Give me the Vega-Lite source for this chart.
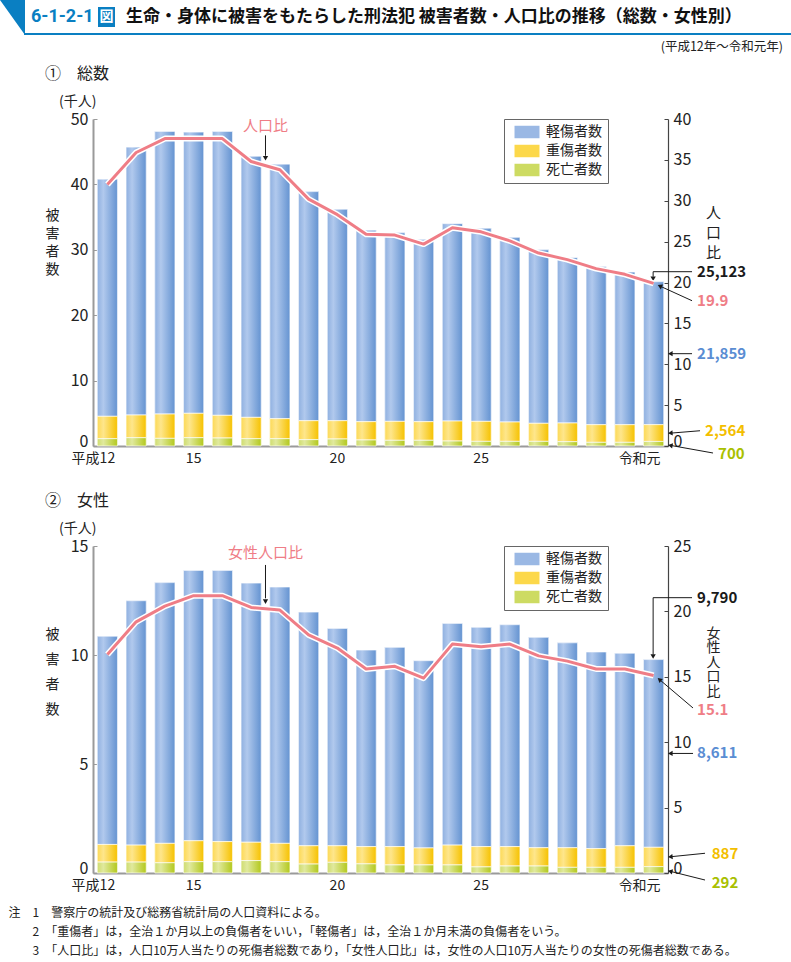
{
"$schema": "https://vega.github.io/schema/vega-lite/v6.json",
"padding": 0,
"background": "white",
"bounds": "flush",
"spacing": 100,
"resolve": {"scale": {"color": "independent"}, "legend": {"color": "independent"}},
"config": {
  "font": "Noto Sans CJK JP",
  "view": {"stroke": null},
  "axis": {"grid": false, "labelFont": "Noto Sans CJK JP", "titleFont": "Noto Sans CJK JP"},
  "legend": {"labelFont": "Noto Sans CJK JP"},
  "text": {"font": "Noto Sans CJK JP"},
  "title": {"anchor": "start", "frame": "group", "dx": -48, "fontSize": 16, "fontWeight": "normal", "color": "#222222", "font": "Noto Sans CJK JP", "subtitleFont": "Noto Sans CJK JP", "subtitleFontSize": 14, "subtitleColor": "#222222", "subtitlePadding": 13, "offset": 2}
},
"datasets": {
  "total": [
    {"year":"平成12","type":"軽傷者数","rank":3,"value":36260},{"year":"平成12","type":"重傷者数","rank":2,"value":3420},{"year":"平成12","type":"死亡者数","rank":1,"value":1120},
    {"year":"13","type":"軽傷者数","rank":3,"value":40960},{"year":"13","type":"重傷者数","rank":2,"value":3470},{"year":"13","type":"死亡者数","rank":1,"value":1270},
    {"year":"14","type":"軽傷者数","rank":3,"value":43210},{"year":"14","type":"重傷者数","rank":2,"value":3720},{"year":"14","type":"死亡者数","rank":1,"value":1170},
    {"year":"15","type":"軽傷者数","rank":3,"value":43000},{"year":"15","type":"重傷者数","rank":2,"value":3730},{"year":"15","type":"死亡者数","rank":1,"value":1270},
    {"year":"16","type":"軽傷者数","rank":3,"value":43410},{"year":"16","type":"重傷者数","rank":2,"value":3470},{"year":"16","type":"死亡者数","rank":1,"value":1220},
    {"year":"17","type":"軽傷者数","rank":3,"value":39920},{"year":"17","type":"重傷者数","rank":2,"value":3260},{"year":"17","type":"死亡者数","rank":1,"value":1120},
    {"year":"18","type":"軽傷者数","rank":3,"value":38920},{"year":"18","type":"重傷者数","rank":2,"value":3060},{"year":"18","type":"死亡者数","rank":1,"value":1120},
    {"year":"19","type":"軽傷者数","rank":3,"value":35030},{"year":"19","type":"重傷者数","rank":2,"value":2900},{"year":"19","type":"死亡者数","rank":1,"value":970},
    {"year":"20","type":"軽傷者数","rank":3,"value":32330},{"year":"20","type":"重傷者数","rank":2,"value":2800},{"year":"20","type":"死亡者数","rank":1,"value":1070},
    {"year":"21","type":"軽傷者数","rank":3,"value":29280},{"year":"21","type":"重傷者数","rank":2,"value":2800},{"year":"21","type":"死亡者数","rank":1,"value":920},
    {"year":"22","type":"軽傷者数","rank":3,"value":28830},{"year":"22","type":"重傷者数","rank":2,"value":2900},{"year":"22","type":"死亡者数","rank":1,"value":870},
    {"year":"23","type":"軽傷者数","rank":3,"value":27880},{"year":"23","type":"重傷者数","rank":2,"value":2850},{"year":"23","type":"死亡者数","rank":1,"value":870},
    {"year":"24","type":"軽傷者数","rank":3,"value":30180},{"year":"24","type":"重傷者数","rank":2,"value":3060},{"year":"24","type":"死亡者数","rank":1,"value":760},
    {"year":"25","type":"軽傷者数","rank":3,"value":29530},{"year":"25","type":"重傷者数","rank":2,"value":3060},{"year":"25","type":"死亡者数","rank":1,"value":710},
    {"year":"26","type":"軽傷者数","rank":3,"value":28230},{"year":"26","type":"重傷者数","rank":2,"value":2960},{"year":"26","type":"死亡者数","rank":1,"value":710},
    {"year":"27","type":"軽傷者数","rank":3,"value":26530},{"year":"27","type":"重傷者数","rank":2,"value":2760},{"year":"27","type":"死亡者数","rank":1,"value":710},
    {"year":"28","type":"軽傷者数","rank":3,"value":25280},{"year":"28","type":"重傷者数","rank":2,"value":2860},{"year":"28","type":"死亡者数","rank":1,"value":660},
    {"year":"29","type":"軽傷者数","rank":3,"value":24140},{"year":"29","type":"重傷者数","rank":2,"value":2700},{"year":"29","type":"死亡者数","rank":1,"value":560},
    {"year":"30","type":"軽傷者数","rank":3,"value":23340},{"year":"30","type":"重傷者数","rank":2,"value":2700},{"year":"30","type":"死亡者数","rank":1,"value":560},
    {"year":"令和元","type":"軽傷者数","rank":3,"value":21859},{"year":"令和元","type":"重傷者数","rank":2,"value":2564},{"year":"令和元","type":"死亡者数","rank":1,"value":700}
  ],
  "female": [
    {"year":"平成12","type":"軽傷者数","rank":3,"value":9550},{"year":"平成12","type":"重傷者数","rank":2,"value":810},{"year":"平成12","type":"死亡者数","rank":1,"value":500},
    {"year":"13","type":"軽傷者数","rank":3,"value":11210},{"year":"13","type":"重傷者数","rank":2,"value":780},{"year":"13","type":"死亡者数","rank":1,"value":500},
    {"year":"14","type":"軽傷者数","rank":3,"value":11960},{"year":"14","type":"重傷者数","rank":2,"value":890},{"year":"14","type":"死亡者数","rank":1,"value":470},
    {"year":"15","type":"軽傷者数","rank":3,"value":12400},{"year":"15","type":"重傷者数","rank":2,"value":960},{"year":"15","type":"死亡者数","rank":1,"value":520},
    {"year":"16","type":"軽傷者数","rank":3,"value":12440},{"year":"16","type":"重傷者数","rank":2,"value":920},{"year":"16","type":"死亡者数","rank":1,"value":520},
    {"year":"17","type":"軽傷者数","rank":3,"value":11890},{"year":"17","type":"重傷者数","rank":2,"value":840},{"year":"17","type":"死亡者数","rank":1,"value":570},
    {"year":"18","type":"軽傷者数","rank":3,"value":11760},{"year":"18","type":"重傷者数","rank":2,"value":840},{"year":"18","type":"死亡者数","rank":1,"value":520},
    {"year":"19","type":"軽傷者数","rank":3,"value":10720},{"year":"19","type":"重傷者数","rank":2,"value":840},{"year":"19","type":"死亡者数","rank":1,"value":410},
    {"year":"20","type":"軽傷者数","rank":3,"value":9970},{"year":"20","type":"重傷者数","rank":2,"value":760},{"year":"20","type":"死亡者数","rank":1,"value":490},
    {"year":"21","type":"軽傷者数","rank":3,"value":9020},{"year":"21","type":"重傷者数","rank":2,"value":790},{"year":"21","type":"死亡者数","rank":1,"value":420},
    {"year":"22","type":"軽傷者数","rank":3,"value":9140},{"year":"22","type":"重傷者数","rank":2,"value":840},{"year":"22","type":"死亡者数","rank":1,"value":370},
    {"year":"23","type":"軽傷者数","rank":3,"value":8590},{"year":"23","type":"重傷者数","rank":2,"value":780},{"year":"23","type":"死亡者数","rank":1,"value":370},
    {"year":"24","type":"軽傷者数","rank":3,"value":10170},{"year":"24","type":"重傷者数","rank":2,"value":910},{"year":"24","type":"死亡者数","rank":1,"value":370},
    {"year":"25","type":"軽傷者数","rank":3,"value":10060},{"year":"25","type":"重傷者数","rank":2,"value":930},{"year":"25","type":"死亡者数","rank":1,"value":280},
    {"year":"26","type":"軽傷者数","rank":3,"value":10180},{"year":"26","type":"重傷者数","rank":2,"value":890},{"year":"26","type":"死亡者数","rank":1,"value":320},
    {"year":"27","type":"軽傷者数","rank":3,"value":9650},{"year":"27","type":"重傷者数","rank":2,"value":840},{"year":"27","type":"死亡者数","rank":1,"value":320},
    {"year":"28","type":"軽傷者数","rank":3,"value":9400},{"year":"28","type":"重傷者数","rank":2,"value":900},{"year":"28","type":"死亡者数","rank":1,"value":260},
    {"year":"29","type":"軽傷者数","rank":3,"value":9020},{"year":"29","type":"重傷者数","rank":2,"value":860},{"year":"29","type":"死亡者数","rank":1,"value":260},
    {"year":"30","type":"軽傷者数","rank":3,"value":8830},{"year":"30","type":"重傷者数","rank":2,"value":990},{"year":"30","type":"死亡者数","rank":1,"value":260},
    {"year":"令和元","type":"軽傷者数","rank":3,"value":8611},{"year":"令和元","type":"重傷者数","rank":2,"value":887},{"year":"令和元","type":"死亡者数","rank":1,"value":292}
  ],
  "ratio_total": [
    {"year":"平成12","ratio":32.0},{"year":"13","ratio":35.9},{"year":"14","ratio":37.6},{"year":"15","ratio":37.6},{"year":"16","ratio":37.6},
    {"year":"17","ratio":34.8},{"year":"18","ratio":33.8},{"year":"19","ratio":30.2},{"year":"20","ratio":28.3},{"year":"21","ratio":25.9},
    {"year":"22","ratio":25.8},{"year":"23","ratio":24.7},{"year":"24","ratio":26.7},{"year":"25","ratio":26.2},{"year":"26","ratio":25.1},
    {"year":"27","ratio":23.6},{"year":"28","ratio":22.8},{"year":"29","ratio":21.7},{"year":"30","ratio":21.0},{"year":"令和元","ratio":19.9}
  ],
  "ratio_female": [
    {"year":"平成12","ratio":16.7},{"year":"13","ratio":19.2},{"year":"14","ratio":20.4},{"year":"15","ratio":21.2},{"year":"16","ratio":21.2},
    {"year":"17","ratio":20.3},{"year":"18","ratio":20.1},{"year":"19","ratio":18.2},{"year":"20","ratio":17.2},{"year":"21","ratio":15.6},
    {"year":"22","ratio":15.8},{"year":"23","ratio":14.9},{"year":"24","ratio":17.5},{"year":"25","ratio":17.3},{"year":"26","ratio":17.5},
    {"year":"27","ratio":16.6},{"year":"28","ratio":16.2},{"year":"29","ratio":15.6},{"year":"30","ratio":15.6},{"year":"令和元","ratio":15.1}
  ]
},
"vconcat": [
  {
    "width": 575, "height": 19,
    "data": {"values": [{"fig": "6-1-2-1", "zu": "図", "title": "生命・身体に被害をもたらした刑法犯 被害者数・人口比の推移（総数・女性別）", "period": "(平成12年～令和元年)"}]},
    "layer": [
      {"mark": {"type": "point", "shape": "M-0.714,-1L0.714,-1L0.714,1Z", "filled": true, "size": 1225, "color": "#0a7fc2", "opacity": 1, "strokeWidth": 0},
       "encoding": {"x": {"datum": 12.5, "type": "quantitative", "scale": {"domain": [93, 668], "nice": false, "zero": false}, "axis": null},
                    "y": {"datum": 17.5, "type": "quantitative", "scale": {"domain": [19, 0], "nice": false, "zero": false}, "axis": null}}},
      {"mark": {"type": "rule", "color": "#0a7fc2", "strokeWidth": 2},
       "encoding": {"x": {"datum": 24, "type": "quantitative", "scale": {"domain": [93, 668], "nice": false, "zero": false}, "axis": null}, "x2": {"datum": 791},
                    "y": {"datum": 34, "type": "quantitative", "scale": {"domain": [19, 0], "nice": false, "zero": false}, "axis": null}}},
      {"mark": {"type": "rect", "color": "#0a7fc2"},
       "encoding": {"x": {"datum": 98, "type": "quantitative", "scale": {"domain": [93, 668], "nice": false, "zero": false}, "axis": null}, "x2": {"datum": 115},
                    "y": {"datum": 7, "type": "quantitative", "scale": {"domain": [19, 0], "nice": false, "zero": false}, "axis": null}, "y2": {"datum": 27}}},
      {"mark": {"type": "text", "align": "left", "baseline": "middle", "fontSize": 18, "fontWeight": "bold", "color": "#0a7fc2", "font": "Roboto"},
       "encoding": {"x": {"datum": 31, "type": "quantitative", "scale": {"domain": [93, 668], "nice": false, "zero": false}, "axis": null},
                    "y": {"datum": 17, "type": "quantitative", "scale": {"domain": [19, 0], "nice": false, "zero": false}, "axis": null},
                    "text": {"field": "fig"}}},
      {"mark": {"type": "text", "align": "center", "baseline": "middle", "fontSize": 14, "fontWeight": "bold", "color": "white"},
       "encoding": {"x": {"datum": 106.5, "type": "quantitative", "scale": {"domain": [93, 668], "nice": false, "zero": false}, "axis": null},
                    "y": {"datum": 17, "type": "quantitative", "scale": {"domain": [19, 0], "nice": false, "zero": false}, "axis": null},
                    "text": {"field": "zu"}}},
      {"mark": {"type": "text", "align": "left", "baseline": "middle", "fontSize": 17, "fontWeight": "bold", "color": "#111111"},
       "encoding": {"x": {"datum": 126, "type": "quantitative", "scale": {"domain": [93, 668], "nice": false, "zero": false}, "axis": null},
                    "y": {"datum": 17, "type": "quantitative", "scale": {"domain": [19, 0], "nice": false, "zero": false}, "axis": null},
                    "text": {"field": "title"}}},
      {"mark": {"type": "text", "align": "right", "baseline": "middle", "fontSize": 12.5, "color": "#222222"},
       "encoding": {"x": {"datum": 783, "type": "quantitative", "scale": {"domain": [93, 668], "nice": false, "zero": false}, "axis": null},
                    "y": {"datum": 47, "type": "quantitative", "scale": {"domain": [19, 0], "nice": false, "zero": false}, "axis": null},
                    "text": {"field": "period"}}}
    ]
  },
  {
    "width": 575, "height": 327,
    "title": {"text": "①　総数", "subtitle": "\u200b\u3000(千人)"},
    "layer": [
      {
        "data": {"name": "total"},
        "layer": [
          {"mark": {"type": "bar"},
           "encoding": {
             "x": {"field": "year", "type": "nominal",
                   "scale": {"domain": ["平成12","13","14","15","16","17","18","19","20","21","22","23","24","25","26","27","28","29","30","令和元"], "paddingInner": 0.3, "paddingOuter": 0.15},
                   "axis": {"title": null, "values": ["平成12", "15", "20", "25", "令和元"], "labelExpr": "datum.value == '平成12' ? '平成12\u3000\u3000\u200b' : datum.value == '令和元' ? '令和元\u3000\u3000\u200b' : datum.value", "ticks": false, "tickSize": 0, "domainColor": "#9a9a9a", "domainWidth": 2, "labelFontSize": 14, "labelColor": "#222222", "labelPadding": 5, "labelAngle": 0, "labelBaseline": "top", "labelAlign": "center", "labelOverlap": false}},
             "y": {"field": "value", "type": "quantitative", "stack": "zero", "scale": {"domain": [0, 50000], "nice": false},
                   "axis": {"orient": "left", "values": [0, 10000, 20000, 30000, 40000, 50000], "labelExpr": "datum.value / 1000", "labelBaseline": {"condition": {"test": "datum.value == 0", "value": "alphabetic"}, "value": "middle"}, "title": ["被","害","者","数"], "titleAngle": 0, "titleAlign": "center", "titleBaseline": "top", "titleX": -41, "titleY": 89, "titleFontSize": 14, "titleFontWeight": "normal", "titleColor": "#222222", "titleLineHeight": 18, "labelFontSize": 16, "labelColor": "#222222", "domainColor": "#9a9a9a", "domainWidth": 2, "tickColor": "#9a9a9a", "tickSize": -4, "labelPadding": 9, "grid": false}},
             "color": {"field": "type", "type": "nominal",
                       "scale": {"domain": ["軽傷者数", "重傷者数", "死亡者数"], "range": ["#9ab8e4", "#fcd84a", "#cddb62"]},
                       "legend": {"title": null, "orient": "none", "legendX": 411, "legendY": 0, "direction": "vertical", "strokeColor": "#666666", "fillColor": "white", "padding": 6, "symbolType": "M-2,-1H2V1H-2Z", "symbolSize": 156, "symbolOffset": 10, "labelOffset": 12, "labelFontSize": 14, "labelColor": "#222222", "rowPadding": 5, "symbolStrokeWidth": 0}},
             "order": {"field": "rank", "type": "quantitative"}
           }},
          {"transform": [{"stack": "value", "groupby": ["year"], "sort": [{"field": "rank", "order": "ascending"}], "as": ["v0", "v1"]}],
           "encoding": {"x": {"field": "year", "type": "nominal", "axis": null}, "y": {"field": "v0", "type": "quantitative", "axis": null}, "y2": {"field": "v1"}},
           "layer": [
             {"transform": [{"filter": "datum.type == '軽傷者数'"}], "mark": {"type": "bar", "stroke": "#ffffff", "strokeWidth": 0.8, "strokeOpacity": 0.85, "fill": {"gradient": "linear", "x1": 0, "y1": 0, "x2": 1, "y2": 0, "stops": [{"offset": 0, "color": "#8fb0e0"}, {"offset": 0.3, "color": "#b1c9ed"}, {"offset": 1, "color": "#6493d1"}]}}},
             {"transform": [{"filter": "datum.type == '重傷者数'"}], "mark": {"type": "bar", "stroke": "#ffffff", "strokeWidth": 0.8, "strokeOpacity": 0.85, "fill": {"gradient": "linear", "x1": 0, "y1": 0, "x2": 1, "y2": 0, "stops": [{"offset": 0, "color": "#fcd955"}, {"offset": 0.3, "color": "#fee68c"}, {"offset": 1, "color": "#f6c200"}]}}},
             {"transform": [{"filter": "datum.type == '死亡者数'"}], "mark": {"type": "bar", "stroke": "#ffffff", "strokeWidth": 0.8, "strokeOpacity": 0.85, "fill": {"gradient": "linear", "x1": 0, "y1": 0, "x2": 1, "y2": 0, "stops": [{"offset": 0, "color": "#cfdc6e"}, {"offset": 0.3, "color": "#e0e99e"}, {"offset": 1, "color": "#b3c81c"}]}}}
           ]},
          {"transform": [{"filter": "datum.year == '令和元'"}, {"aggregate": [{"op": "sum", "field": "value", "as": "total"}], "groupby": ["year"]}],
           "encoding": {"x": {"field": "year", "type": "nominal", "axis": null}, "y": {"field": "total", "type": "quantitative", "axis": null}},
           "layer": [
             {"mark": {"type": "text", "align": "left", "baseline": "middle", "dx": 43.4, "dy": -10, "fontSize": 15, "fontWeight": "bold", "color": "#1a1a1a"}, "encoding": {"text": {"field": "total", "type": "quantitative", "format": ","}}},
             {"mark": {"type": "rule", "xOffset": 38.4, "x2Offset": -0.5, "yOffset": -10, "color": "#1a1a1a", "strokeWidth": 1}, "encoding": {"x2": {"field": "year"}}},
             {"mark": {"type": "rule", "xOffset": -0.5, "yOffset": -10, "y2Offset": -5, "color": "#1a1a1a", "strokeWidth": 1}, "encoding": {"y2": {"field": "total"}}},
             {"mark": {"type": "point", "shape": "triangle-down", "filled": true, "size": 28, "color": "#1a1a1a", "opacity": 1, "xOffset": -0.5, "yOffset": -3}}
           ]},
          {"transform": [
             {"filter": "datum.year == '令和元'"},
             {"stack": "value", "groupby": ["year"], "sort": [{"field": "rank", "order": "ascending"}], "as": ["v0", "v1"]},
             {"fold": ["v0", "v1"], "as": ["edge", "ev"]},
             {"aggregate": [{"op": "mean", "field": "ev", "as": "mid"}], "groupby": ["year", "type", "value"]}
           ],
           "encoding": {"x": {"field": "year", "type": "nominal", "axis": null}, "y": {"field": "mid", "type": "quantitative", "axis": null}},
           "layer": [
             {"transform": [{"filter": "datum.type == '軽傷者数'"}], "layer": [
               {"mark": {"type": "text", "align": "left", "baseline": "middle", "dx": 43.4, "dy": 0.5, "fontSize": 15, "fontWeight": "bold", "color": "#5a8dd3"}, "encoding": {"text": {"field": "value", "type": "quantitative", "format": ","}}},
               {"mark": {"type": "rule", "xOffset": 38.4, "x2Offset": 17, "yOffset": 0.5, "color": "#1a1a1a", "strokeWidth": 1}, "encoding": {"x2": {"field": "year"}}},
               {"mark": {"type": "point", "shape": "triangle-up", "angle": 270, "filled": true, "size": 28, "color": "#1a1a1a", "opacity": 1, "xOffset": 16.7, "yOffset": 0.5}}
             ]},
             {"transform": [{"filter": "datum.type == '重傷者数'"}], "layer": [
               {"mark": {"type": "text", "align": "left", "baseline": "middle", "dx": 51.4, "dy": -2.3, "fontSize": 15, "fontWeight": "bold", "color": "#f3be00"}, "encoding": {"text": {"field": "value", "type": "quantitative", "format": ","}}},
               {"mark": {"type": "rule", "xOffset": 46.4, "yOffset": -2.3, "x2Offset": 17, "y2Offset": 0.1, "color": "#1a1a1a", "strokeWidth": 1}, "encoding": {"x2": {"field": "year"}, "y2": {"field": "mid"}}},
               {"mark": {"type": "point", "shape": "triangle-up", "angle": 265.4, "filled": true, "size": 28, "color": "#1a1a1a", "opacity": 1, "xOffset": 16.7, "yOffset": 0.1}}
             ]},
             {"transform": [{"filter": "datum.type == '死亡者数'"}], "layer": [
               {"mark": {"type": "text", "align": "left", "baseline": "middle", "dx": 64.4, "dy": 10.3, "fontSize": 15, "fontWeight": "bold", "color": "#a9c000"}, "encoding": {"text": {"field": "value", "type": "quantitative", "format": ","}}},
               {"mark": {"type": "rule", "xOffset": 59.4, "yOffset": 9.3, "x2Offset": 17, "y2Offset": 1.7, "color": "#1a1a1a", "strokeWidth": 1}, "encoding": {"x2": {"field": "year"}, "y2": {"field": "mid"}}},
               {"mark": {"type": "point", "shape": "triangle-up", "angle": 280.1, "filled": true, "size": 28, "color": "#1a1a1a", "opacity": 1, "xOffset": 16.7, "yOffset": 1.7}}
             ]}
           ]}
        ],
        "resolve": {"axis": {"x": "independent", "y": "independent"}}
      },
      {
        "data": {"name": "ratio_total"},
        "layer": [
          {"mark": {"type": "line", "color": "#ffffff", "strokeWidth": 6, "strokeJoin": "round"},
           "encoding": {"x": {"field": "year", "type": "nominal", "axis": null},
                        "y": {"field": "ratio", "type": "quantitative", "scale": {"domain": [0, 40], "nice": false},
                              "axis": {"orient": "right", "values": [0, 5, 10, 15, 20, 25, 30, 35, 40], "labelBaseline": {"condition": {"test": "datum.value == 0", "value": "alphabetic"}, "value": "middle"}, "title": ["人","口","比"], "titleAngle": 0, "titleAlign": "center", "titleBaseline": "top", "titleX": 45, "titleY": 86, "titleFontSize": 15, "titleFontWeight": "normal", "titleColor": "#222222", "titleLineHeight": 20, "labelFontSize": 16, "labelColor": "#222222", "domainColor": "#444444", "domainWidth": 1.2, "tickColor": "#444444", "tickSize": -4, "labelPadding": 9, "grid": false}}}},
          {"mark": {"type": "line", "color": "#ef7d86", "strokeWidth": 3, "strokeJoin": "round"},
           "encoding": {"x": {"field": "year", "type": "nominal", "axis": null}, "y": {"field": "ratio", "type": "quantitative", "axis": null}}},
          {"transform": [{"filter": "datum.year == '令和元'"}],
           "encoding": {"x": {"field": "year", "type": "nominal", "axis": null}, "y": {"field": "ratio", "type": "quantitative", "axis": null}},
           "layer": [
             {"mark": {"type": "text", "align": "left", "baseline": "middle", "dx": 43.4, "dy": 17.4, "fontSize": 15, "fontWeight": "bold", "color": "#ef7d86"}, "encoding": {"text": {"field": "ratio", "type": "quantitative", "format": ".1f"}}},
             {"mark": {"type": "rule", "xOffset": 38.4, "yOffset": 17.4, "x2Offset": 6.2, "y2Offset": 2.7, "color": "#1a1a1a", "strokeWidth": 1}, "encoding": {"x2": {"field": "year"}, "y2": {"field": "ratio"}}},
             {"mark": {"type": "point", "shape": "triangle-up", "angle": 294.6, "filled": true, "size": 28, "color": "#1a1a1a", "opacity": 1, "xOffset": 6.2, "yOffset": 2.7}}
           ]},
          {"transform": [{"filter": "datum.year == '17'"}],
           "encoding": {"x": {"field": "year", "type": "nominal", "bandPosition": 1, "axis": null}},
           "layer": [
             {"mark": {"type": "text", "dx": 4.3, "baseline": "middle", "fontSize": 15, "color": "#ef7d86"}, "encoding": {"y": {"datum": 39.1, "type": "quantitative", "axis": null}, "text": {"value": "人口比"}}},
             {"mark": {"type": "rule", "xOffset": 4.3, "color": "#1a1a1a", "strokeWidth": 1}, "encoding": {"y": {"datum": 38.0, "type": "quantitative", "axis": null}, "y2": {"datum": 35.5}}},
             {"mark": {"type": "point", "shape": "triangle-down", "filled": true, "size": 28, "color": "#1a1a1a", "opacity": 1, "xOffset": 4.3}, "encoding": {"y": {"datum": 35.2, "type": "quantitative", "axis": null}}}
           ]}
        ],
        "resolve": {"axis": {"x": "independent", "y": "independent"}}
      }
    ],
    "resolve": {"scale": {"y": "independent"}, "axis": {"x": "independent", "y": "independent"}}
  },
  {
    "width": 575, "height": 327,
    "title": {"text": "②　女性", "subtitle": "\u200b\u3000(千人)"},
    "layer": [
      {
        "data": {"name": "female"},
        "layer": [
          {"mark": {"type": "bar"},
           "encoding": {
             "x": {"field": "year", "type": "nominal",
                   "scale": {"domain": ["平成12","13","14","15","16","17","18","19","20","21","22","23","24","25","26","27","28","29","30","令和元"], "paddingInner": 0.3, "paddingOuter": 0.15},
                   "axis": {"values": ["平成12", "15", "20", "25", "令和元"], "labelExpr": "datum.value == '平成12' ? '平成12\u3000\u3000\u200b' : datum.value == '令和元' ? '令和元\u3000\u3000\u200b' : datum.value", "ticks": false, "tickSize": 0, "domainColor": "#9a9a9a", "domainWidth": 2, "labelFontSize": 14, "labelColor": "#222222", "labelPadding": 5, "labelAngle": 0, "labelBaseline": "top", "labelAlign": "center", "labelOverlap": false,
                            "title": ["注　1　警察庁の統計及び総務省統計局の人口資料による。", "\u200b\u3000\u30002　「重傷者」は，全治１か月以上の負傷者をいい，「軽傷者」は，全治１か月未満の負傷者をいう。", "\u200b\u3000\u30003　「人口比」は，人口10万人当たりの死傷者総数であり，「女性人口比」は，女性の人口10万人当たりの女性の死傷者総数である。"],
                            "titleAnchor": "start", "titleAlign": "left", "titleBaseline": "top", "titleX": -85, "titleY": 34, "titleFontSize": 12, "titleFontWeight": "normal", "titleColor": "#222222", "titleLineHeight": 19}},
             "y": {"field": "value", "type": "quantitative", "stack": "zero", "scale": {"domain": [0, 15000], "nice": false},
                   "axis": {"orient": "left", "values": [0, 5000, 10000, 15000], "labelExpr": "datum.value / 1000", "labelBaseline": {"condition": {"test": "datum.value == 0", "value": "alphabetic"}, "value": "middle"}, "title": ["被","害","者","数"], "titleAngle": 0, "titleAlign": "center", "titleBaseline": "top", "titleX": -41, "titleY": 81, "titleFontSize": 14, "titleFontWeight": "normal", "titleColor": "#222222", "titleLineHeight": 25, "labelFontSize": 16, "labelColor": "#222222", "domainColor": "#9a9a9a", "domainWidth": 2, "tickColor": "#9a9a9a", "tickSize": -4, "labelPadding": 9, "grid": false}},
             "color": {"field": "type", "type": "nominal",
                       "scale": {"domain": ["軽傷者数", "重傷者数", "死亡者数"], "range": ["#9ab8e4", "#fcd84a", "#cddb62"]},
                       "legend": {"title": null, "orient": "none", "legendX": 411, "legendY": 0, "direction": "vertical", "strokeColor": "#666666", "fillColor": "white", "padding": 6, "symbolType": "M-2,-1H2V1H-2Z", "symbolSize": 156, "symbolOffset": 10, "labelOffset": 12, "labelFontSize": 14, "labelColor": "#222222", "rowPadding": 5, "symbolStrokeWidth": 0}},
             "order": {"field": "rank", "type": "quantitative"}
           }},
          {"transform": [{"stack": "value", "groupby": ["year"], "sort": [{"field": "rank", "order": "ascending"}], "as": ["v0", "v1"]}],
           "encoding": {"x": {"field": "year", "type": "nominal", "axis": null}, "y": {"field": "v0", "type": "quantitative", "axis": null}, "y2": {"field": "v1"}},
           "layer": [
             {"transform": [{"filter": "datum.type == '軽傷者数'"}], "mark": {"type": "bar", "stroke": "#ffffff", "strokeWidth": 0.8, "strokeOpacity": 0.85, "fill": {"gradient": "linear", "x1": 0, "y1": 0, "x2": 1, "y2": 0, "stops": [{"offset": 0, "color": "#8fb0e0"}, {"offset": 0.3, "color": "#b1c9ed"}, {"offset": 1, "color": "#6493d1"}]}}},
             {"transform": [{"filter": "datum.type == '重傷者数'"}], "mark": {"type": "bar", "stroke": "#ffffff", "strokeWidth": 0.8, "strokeOpacity": 0.85, "fill": {"gradient": "linear", "x1": 0, "y1": 0, "x2": 1, "y2": 0, "stops": [{"offset": 0, "color": "#fcd955"}, {"offset": 0.3, "color": "#fee68c"}, {"offset": 1, "color": "#f6c200"}]}}},
             {"transform": [{"filter": "datum.type == '死亡者数'"}], "mark": {"type": "bar", "stroke": "#ffffff", "strokeWidth": 0.8, "strokeOpacity": 0.85, "fill": {"gradient": "linear", "x1": 0, "y1": 0, "x2": 1, "y2": 0, "stops": [{"offset": 0, "color": "#cfdc6e"}, {"offset": 0.3, "color": "#e0e99e"}, {"offset": 1, "color": "#b3c81c"}]}}}
           ]},
          {"transform": [{"filter": "datum.year == '令和元'"}, {"aggregate": [{"op": "sum", "field": "value", "as": "total"}], "groupby": ["year"]}],
           "encoding": {"x": {"field": "year", "type": "nominal", "axis": null}, "y": {"field": "total", "type": "quantitative", "axis": null}},
           "layer": [
             {"mark": {"type": "text", "align": "left", "baseline": "middle", "dx": 43.4, "dy": -61.9, "fontSize": 15, "fontWeight": "bold", "color": "#1a1a1a"}, "encoding": {"text": {"field": "total", "type": "quantitative", "format": ","}}},
             {"mark": {"type": "rule", "xOffset": 38.4, "x2Offset": -0.5, "yOffset": -61.9, "color": "#1a1a1a", "strokeWidth": 1}, "encoding": {"x2": {"field": "year"}}},
             {"mark": {"type": "rule", "xOffset": -0.5, "yOffset": -61.9, "y2Offset": -5, "color": "#1a1a1a", "strokeWidth": 1}, "encoding": {"y2": {"field": "total"}}},
             {"mark": {"type": "point", "shape": "triangle-down", "filled": true, "size": 28, "color": "#1a1a1a", "opacity": 1, "xOffset": -0.5, "yOffset": -3}}
           ]},
          {"transform": [
             {"filter": "datum.year == '令和元'"},
             {"stack": "value", "groupby": ["year"], "sort": [{"field": "rank", "order": "ascending"}], "as": ["v0", "v1"]},
             {"fold": ["v0", "v1"], "as": ["edge", "ev"]},
             {"aggregate": [{"op": "mean", "field": "ev", "as": "mid"}], "groupby": ["year", "type", "value"]}
           ],
           "encoding": {"x": {"field": "year", "type": "nominal", "axis": null}, "y": {"field": "mid", "type": "quantitative", "axis": null}},
           "layer": [
             {"transform": [{"filter": "datum.type == '軽傷者数'"}], "layer": [
               {"mark": {"type": "text", "align": "left", "baseline": "middle", "dx": 43.4, "dy": 0, "fontSize": 15, "fontWeight": "bold", "color": "#5a8dd3"}, "encoding": {"text": {"field": "value", "type": "quantitative", "format": ","}}},
               {"mark": {"type": "rule", "xOffset": 39.4, "x2Offset": 17, "color": "#1a1a1a", "strokeWidth": 1}, "encoding": {"x2": {"field": "year"}}},
               {"mark": {"type": "point", "shape": "triangle-up", "angle": 270, "filled": true, "size": 28, "color": "#1a1a1a", "opacity": 1, "xOffset": 16.7}}
             ]},
             {"transform": [{"filter": "datum.type == '重傷者数'"}], "layer": [
               {"mark": {"type": "text", "align": "left", "baseline": "middle", "dx": 58.1, "dy": -3, "fontSize": 15, "fontWeight": "bold", "color": "#f3be00"}, "encoding": {"text": {"field": "value", "type": "quantitative", "format": ","}}},
               {"mark": {"type": "rule", "xOffset": 51.4, "yOffset": -3.7, "x2Offset": 16.7, "y2Offset": -0.2, "color": "#1a1a1a", "strokeWidth": 1}, "encoding": {"x2": {"field": "year"}, "y2": {"field": "mid"}}},
               {"mark": {"type": "point", "shape": "triangle-up", "angle": 264.3, "filled": true, "size": 28, "color": "#1a1a1a", "opacity": 1, "xOffset": 16.7, "yOffset": -0.2}}
             ]},
             {"transform": [{"filter": "datum.type == '死亡者数'"}], "layer": [
               {"mark": {"type": "text", "align": "left", "baseline": "middle", "dx": 58.1, "dy": 12.9, "fontSize": 15, "fontWeight": "bold", "color": "#a9c000"}, "encoding": {"text": {"field": "value", "type": "quantitative", "format": ","}}},
               {"mark": {"type": "rule", "xOffset": 51.4, "yOffset": 10.2, "x2Offset": 16.6, "y2Offset": 1.5, "color": "#1a1a1a", "strokeWidth": 1}, "encoding": {"x2": {"field": "year"}, "y2": {"field": "mid"}}},
               {"mark": {"type": "point", "shape": "triangle-up", "angle": 284.1, "filled": true, "size": 28, "color": "#1a1a1a", "opacity": 1, "xOffset": 16.6, "yOffset": 1.5}}
             ]}
           ]}
        ],
        "resolve": {"axis": {"x": "independent", "y": "independent"}}
      },
      {
        "data": {"name": "ratio_female"},
        "layer": [
          {"mark": {"type": "line", "color": "#ffffff", "strokeWidth": 6, "strokeJoin": "round"},
           "encoding": {"x": {"field": "year", "type": "nominal", "axis": null},
                        "y": {"field": "ratio", "type": "quantitative", "scale": {"domain": [0, 25], "nice": false},
                              "axis": {"orient": "right", "values": [0, 5, 10, 15, 20, 25], "labelBaseline": {"condition": {"test": "datum.value == 0", "value": "alphabetic"}, "value": "middle"}, "title": ["女","性","人","口","比"], "titleAngle": 0, "titleAlign": "center", "titleBaseline": "top", "titleX": 45, "titleY": 80, "titleFontSize": 14, "titleFontWeight": "normal", "titleColor": "#222222", "titleLineHeight": 14.6, "labelFontSize": 16, "labelColor": "#222222", "domainColor": "#444444", "domainWidth": 1.2, "tickColor": "#444444", "tickSize": -4, "labelPadding": 9, "grid": false}}}},
          {"mark": {"type": "line", "color": "#ef7d86", "strokeWidth": 3, "strokeJoin": "round"},
           "encoding": {"x": {"field": "year", "type": "nominal", "axis": null}, "y": {"field": "ratio", "type": "quantitative", "axis": null}}},
          {"transform": [{"filter": "datum.year == '令和元'"}],
           "encoding": {"x": {"field": "year", "type": "nominal", "axis": null}, "y": {"field": "ratio", "type": "quantitative", "axis": null}},
           "layer": [
             {"mark": {"type": "text", "align": "left", "baseline": "middle", "dx": 43.4, "dy": 34.5, "fontSize": 15, "fontWeight": "bold", "color": "#ef7d86"}, "encoding": {"text": {"field": "ratio", "type": "quantitative", "format": ".1f"}}},
             {"mark": {"type": "rule", "xOffset": 39.4, "yOffset": 32.5, "x2Offset": 5.8, "y2Offset": 4.0, "color": "#1a1a1a", "strokeWidth": 1}, "encoding": {"x2": {"field": "year"}, "y2": {"field": "ratio"}}},
             {"mark": {"type": "point", "shape": "triangle-up", "angle": 310.3, "filled": true, "size": 28, "color": "#1a1a1a", "opacity": 1, "xOffset": 5.8, "yOffset": 4.0}}
           ]},
          {"transform": [{"filter": "datum.year == '17'"}],
           "encoding": {"x": {"field": "year", "type": "nominal", "bandPosition": 1, "axis": null}},
           "layer": [
             {"mark": {"type": "text", "dx": 4.3, "baseline": "middle", "fontSize": 15, "color": "#ef7d86"}, "encoding": {"y": {"datum": 24.46, "type": "quantitative", "axis": null}, "text": {"value": "女性人口比"}}},
             {"mark": {"type": "rule", "xOffset": 4.3, "color": "#1a1a1a", "strokeWidth": 1}, "encoding": {"y": {"datum": 23.55, "type": "quantitative", "axis": null}, "y2": {"datum": 21.0}}},
             {"mark": {"type": "point", "shape": "triangle-down", "filled": true, "size": 28, "color": "#1a1a1a", "opacity": 1, "xOffset": 4.3}, "encoding": {"y": {"datum": 20.75, "type": "quantitative", "axis": null}}}
           ]}
        ],
        "resolve": {"axis": {"x": "independent", "y": "independent"}}
      }
    ],
    "resolve": {"scale": {"y": "independent"}, "axis": {"x": "independent", "y": "independent"}}
  }
]
}
